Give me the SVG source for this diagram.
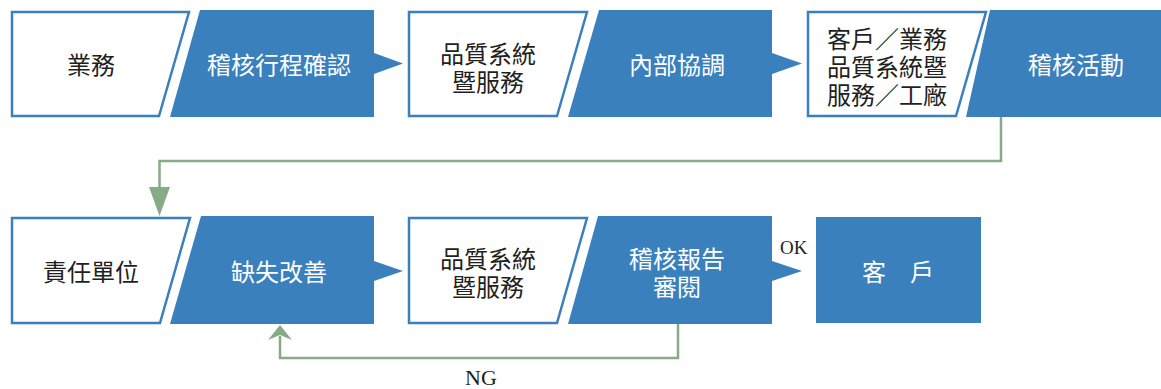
<svg xmlns="http://www.w3.org/2000/svg" width="1161" height="389" viewBox="0 0 1161 389">
<style>
.w{fill:#fff;stroke:#3a80bd;stroke-width:2.5}
.b{fill:#3a80bd}
.tk{font-family:"Noto Sans CJK TC","Noto Sans CJK SC",sans-serif;font-size:24px;fill:#231f20;text-anchor:middle;dominant-baseline:central}
.tw{font-family:"Noto Sans CJK TC","Noto Sans CJK SC",sans-serif;font-size:24px;fill:#fff;text-anchor:middle;dominant-baseline:central}
.lbl{font-family:"Liberation Serif",serif;fill:#231f20}
.g{fill:none;stroke:#87ab85;stroke-width:2.5}
.ga{fill:#87ab85}
</style>
<rect width="1161" height="389" fill="#fff"/>
<g id="n1"><polygon class="w" points="12,12 189,12 159,116 12,116"/><text class="tk" x="91" y="63">業務</text></g>
<g id="n2"><polygon class="b" points="200,10 374,10 374,117 170,117"/><polygon class="b" points="374,53 403,63.5 374,74"/><text class="tw" x="279" y="63">稽核行程確認</text></g>
<g id="n3"><polygon class="w" points="409,12 587,12 557,116 409,116"/><text class="tk"><tspan x="488" y="52">品質系統</tspan><tspan x="488" y="80">暨服務</tspan></text></g>
<g id="n4"><polygon class="b" points="599,10 772,10 772,117 568,117"/><polygon class="b" points="772,53 802,63.5 772,74"/><text class="tw" x="677" y="63">內部協調</text></g>
<g id="n5"><polygon class="w" points="808,12 986,12 956,116 808,116"/><text class="tk"><tspan x="887" y="37">客戶／業務</tspan><tspan x="887" y="65">品質系統暨</tspan><tspan x="887" y="93">服務／工廠</tspan></text></g>
<g id="n6"><polygon class="b" points="990,10 1161,10 1161,117 966,117"/><text class="tw" x="1076" y="63">稽核活動</text></g>
<g id="n7"><polygon class="w" points="12,218 190,218 160,323 12,323"/><text class="tk" x="91" y="270">責任單位</text></g>
<g id="n8"><polygon class="b" points="201,216 374,216 374,324 170,324"/><polygon class="b" points="374,261 403,271 374,281"/><text class="tw" x="279" y="270">缺失改善</text></g>
<g id="n9"><polygon class="w" points="409,218 587,218 557,323 409,323"/><text class="tk"><tspan x="488" y="257">品質系統</tspan><tspan x="488" y="285">暨服務</tspan></text></g>
<g id="n10"><polygon class="b" points="598,216 772,216 772,324 568,324"/><polygon class="b" points="772,261 802,271 772,281"/><text class="tw"><tspan x="677" y="257">稽核報告</tspan><tspan x="677" y="285">審閱</tspan></text></g>
<g id="n11"><rect class="b" x="816" y="217" width="165" height="106"/><text class="tw" x="898" y="270">客　戶</text></g>
<g id="connectors">
<path class="g" d="M1001,117 V161 H159.5 V188"/>
<polygon class="ga" points="149,187 170,187 159.5,216"/>
<path class="g" d="M678,324 V358 H280 V336"/>
<polygon class="ga" points="280,325 292,340 280,335 268,340"/>
<text class="lbl" x="780" y="254" font-size="19">OK</text>
<text class="lbl" x="481" y="385" font-size="22" text-anchor="middle">NG</text>
</g>
</svg>
